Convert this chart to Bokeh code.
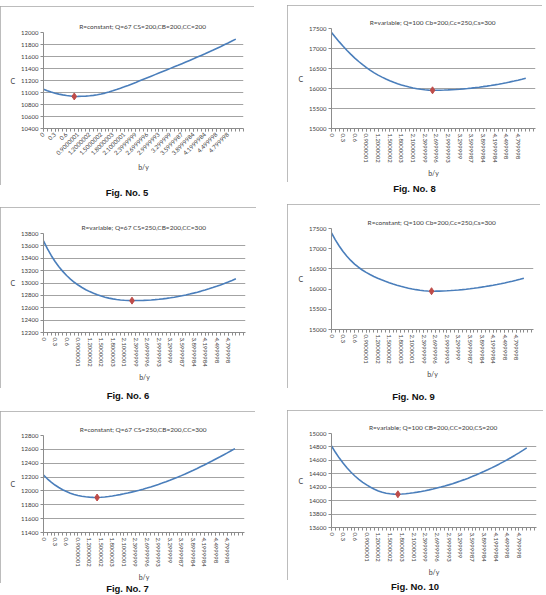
import math
from bokeh.plotting import figure
from bokeh.models import Range1d, FixedTicker, Div, Spacer
from bokeh.layouts import column, row
from bokeh.embed import file_html
from bokeh.resources import INLINE

# category tick positions (index of b/y value) and their labels
b_ticks = [0, 3, 6, 9, 12, 15, 18, 21, 24, 27, 30, 33, 36, 39, 42, 45, 48]
b_labels = ["0", "0.3", "0.6", "0.9000001", "1.2000002", "1.5000002", "1.8000003",
            "2.1000001", "2.3999999", "2.6999996", "2.9999993", "3.299999",
            "3.5999987", "3.8999984", "4.1999984", "4.499998", "4.799998"]

# Fig 5: R=constant; Q=67 CS=200,CB=200,CC=200
c_fig5 = [11055, 11030, 11008, 10989, 10973, 10960, 10950, 10942, 10934, 10935,
          10937, 10940, 10945, 10952, 10962, 10975, 10990, 11008, 11028, 11049,
          11071, 11094, 11118, 11143, 11168, 11194, 11220, 11246, 11272, 11298,
          11324, 11350, 11376, 11402, 11428, 11454, 11481, 11508, 11535, 11562,
          11590, 11618, 11646, 11675, 11704, 11734, 11764, 11795, 11826, 11858, 11890]
# Fig 8: R=variable; Q=100 Cb=200,Cc=250,Cs=300
c_fig8 = [17400, 17280, 17165, 17055, 16951, 16853, 16761, 16675, 16595, 16521,
          16453, 16391, 16335, 16285, 16237, 16194, 16155, 16120, 16089, 16061,
          16036, 16014, 15995, 15980, 15968, 15960, 15955, 15956, 15958, 15961,
          15965, 15970, 15976, 15983, 15991, 16000, 16010, 16021, 16033, 16046,
          16060, 16075, 16091, 16108, 16126, 16145, 16165, 16186, 16208, 16231, 16255]
# Fig 6: R=variable; Q=67 CS=250,CB=200,CC=300
c_fig6 = [13680, 13555, 13445, 13348, 13263, 13188, 13121, 13063, 13012, 12967,
          12927, 12892, 12861, 12834, 12810, 12789, 12771, 12756, 12744, 12734,
          12726, 12720, 12717, 12715, 12716, 12717, 12719, 12722, 12726, 12731,
          12737, 12744, 12752, 12761, 12771, 12782, 12794, 12807, 12821, 12836,
          12852, 12869, 12887, 12906, 12926, 12947, 12969, 12992, 13016, 13041, 13067]
# Fig 9: R=constant; Q=100 Cb=200,Cc=250,Cs=300
c_fig9 = [17389, 17219, 17067, 16932, 16813, 16709, 16619, 16541, 16473, 16413,
          16360, 16313, 16271, 16233, 16196, 16160, 16127, 16097, 16070, 16045,
          16023, 16003, 15986, 15972, 15961, 15953, 15948, 15949, 15951, 15954,
          15958, 15964, 15971, 15979, 15988, 15998, 16009, 16021, 16034, 16048,
          16063, 16079, 16096, 16114, 16133, 16153, 16174, 16196, 16219, 16243, 16268]
# Fig 7: R=constant; Q=67 CS=250,CB=200,CC=300
c_fig7 = [12230, 12175, 12127, 12085, 12049, 12018, 11991, 11968, 11949, 11934,
          11923, 11915, 11910, 11907, 11905, 11908, 11913, 11920, 11928, 11937,
          11947, 11958, 11970, 11983, 11996, 12010, 12025, 12041, 12058, 12076,
          12094, 12113, 12133, 12154, 12176, 12198, 12221, 12245, 12270, 12295,
          12321, 12348, 12375, 12403, 12431, 12460, 12489, 12519, 12549, 12580, 12611]
# Fig 10: R=variable; Q=100 CB=200,CC=200,CS=200
c_fig10 = [14815, 14720, 14634, 14556, 14486, 14423, 14367, 14317, 14273, 14234,
           14200, 14170, 14145, 14125, 14111, 14102, 14097, 14095, 14098, 14103,
           14110, 14118, 14127, 14137, 14148, 14160, 14173, 14187, 14202, 14218,
           14235, 14253, 14272, 14292, 14313, 14335, 14358, 14382, 14407, 14433,
           14460, 14488, 14517, 14547, 14578, 14610, 14643, 14677, 14712, 14748, 14785]

FONT = "Lato"
LINE = "#4a7ebb"
MARK = "#be4b48"
GRID = "#8c8c8c"
TEXT = "#404040"
BORDER = "#a6a6a6"


def panel(title, vals, ylo, yhi, ystep, w, h, bl, br, bt, bb, orient,
          xmax=52.5, grid_ticks=None):
    idx = list(range(len(vals)))
    imin = vals.index(min(vals))
    p = figure(width=w, height=h, x_range=Range1d(0, xmax), y_range=Range1d(ylo, yhi),
               output_backend="svg", toolbar_location=None,
               min_border_left=bl, min_border_right=br,
               min_border_top=bt, min_border_bottom=bb,
               title=title, margin=0,
               styles={"outline": "1px solid " + BORDER, "outline-offset": "-1px"})
    p.outline_line_color = None
    p.title.align = "center"
    p.title.text_font = FONT
    p.title.text_font_size = "6.5px"
    p.title.text_font_style = "normal"
    p.title.text_color = TEXT
    p.title.standoff = 6

    yticks = list(range(ylo, yhi + 1, ystep))
    p.yaxis.ticker = FixedTicker(ticks=yticks)
    p.ygrid.ticker = FixedTicker(ticks=grid_ticks if grid_ticks else yticks)
    p.xgrid.visible = False
    p.ygrid.grid_line_color = GRID
    p.ygrid.grid_line_width = 0.8

    p.xaxis.ticker = FixedTicker(ticks=b_ticks, minor_ticks=list(range(0, int(xmax) + 1)))
    p.xaxis.major_label_overrides = dict(zip(b_ticks, b_labels))
    p.xaxis.major_label_orientation = orient

    for ax in (p.xaxis[0], p.yaxis[0]):
        ax.axis_line_color = GRID
        ax.major_tick_line_color = GRID
        ax.minor_tick_line_color = GRID
        ax.major_tick_in = 0
        ax.major_tick_out = 3
        ax.minor_tick_in = 0
        ax.minor_tick_out = 3
        ax.major_label_standoff = 2
        ax.major_label_text_font = FONT
        ax.major_label_text_font_size = "6px"
        ax.major_label_text_color = TEXT
        ax.axis_label_text_font = FONT
        ax.axis_label_text_font_size = "7px"
        ax.axis_label_text_font_style = "normal"
        ax.axis_label_text_color = TEXT
        ax.axis_label_standoff = 3
    p.yaxis.minor_tick_line_color = None
    p.xaxis.axis_label = "b/y"
    p.yaxis.axis_label = "C"
    p.yaxis.axis_label_orientation = "horizontal"

    p.line(idx, vals, line_color=LINE, line_width=1.6)
    p.scatter([idx[imin]], [vals[imin]], marker="diamond", size=7,
              fill_color=MARK, line_color=MARK)
    return p


def caption(text, w, h):
    return Div(text=text, width=w, height=h, margin=0,
               styles={"font-family": "'Liberation Sans', Arial, sans-serif",
                       "font-weight": "bold", "font-size": "9.5px",
                       "text-align": "center", "line-height": f"{h}px",
                       "color": "#111111"})


p5 = panel("R=constant;  Q=67 CS=200,CB=200,CC=200", c_fig5, 10400, 12000, 200,
           254, 179, 38, 11, 26, 57, math.pi / 4, xmax=52)
p8 = panel("R=variable;  Q=100 Cb=200,Cc=250,Cs=300", c_fig8, 15000, 17500, 500,
           255, 177, 43, 6, 23, 54, "vertical")
p6 = panel("R=variable;  Q=67 CS=250,CB=200,CC=300", c_fig6, 12200, 13800, 200,
           256, 181, 43, 9, 26, 56, "vertical")
p9 = panel("R=constant;  Q=100 Cb=200,Cc=250,Cs=300", c_fig9, 15000, 17500, 500,
           253, 184, 44, 3, 24, 59, "vertical", grid_ticks=[16500])
p7 = panel("R=constant;  Q=67 CS=250,CB=200,CC=300", c_fig7, 11400, 12800, 200,
           255, 172, 42, 7, 24, 50, "vertical")
p10 = panel("R=variable;  Q=100 CB=200,CC=200,CS=200", c_fig10, 13600, 15000, 200,
            256, 170, 43, 7, 23, 53, "vertical")

left = column(Spacer(height=6, margin=0), p5, caption("Fig. No. 5", 254, 15),
              Spacer(height=7, margin=0), p6, caption("Fig. No. 6", 256, 16),
              Spacer(height=7, margin=0), p7, caption("Fig. No. 7", 255, 12),
              margin=0, spacing=0)
right = column(Spacer(height=5, margin=0), p8, caption("Fig. No. 8", 255, 13),
               Spacer(height=9, margin=0), p9, caption("Fig. No. 9", 253, 17),
               Spacer(height=5, margin=0), p10, caption("Fig. No. 10", 256, 14),
               margin=0, spacing=0)
layout = row(left, Spacer(width=31, margin=0), right, margin=0, spacing=0)

open("out.html", "w").write(file_html(layout, INLINE, title="Figures 5-10"))
